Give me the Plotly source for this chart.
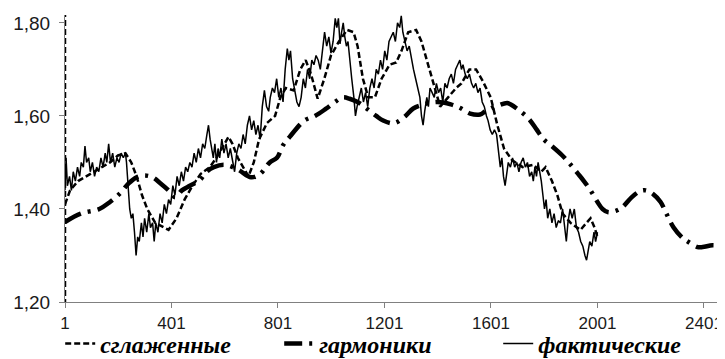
import plotly.graph_objects as go

# ---- фактические (actual, noisy) ----
act_x = [1, 5, 10, 18, 25, 32, 40, 48, 56, 62, 70, 76, 82, 90, 96, 104, 112, 120, 128, 136,
         144, 152, 158, 165, 172, 180, 188, 196, 204, 212, 220, 228, 232, 238, 244, 250, 256, 262, 268, 274,
         280, 288, 294, 300, 308, 316, 322, 330, 336, 342, 350, 358, 366, 374, 382, 390, 398, 406, 414, 422,
         430, 438, 446, 454, 462, 470, 478, 486, 494, 502, 510, 518, 526, 534, 540, 546, 552, 558, 564, 570,
         576, 582, 590, 598, 606, 614, 622, 630, 638, 646, 654, 662, 670, 678, 686, 694, 702, 710, 718, 726,
         734, 742, 750, 758, 766, 772, 780, 788, 796, 804, 812, 820, 828, 836, 842, 848, 856, 864, 872, 880,
         888, 896, 904, 912, 920, 928, 936, 944, 952, 960, 968, 976, 984, 992, 1000, 1008, 1016, 1022, 1028, 1034,
         1040, 1046, 1052, 1058, 1064, 1070, 1078, 1086, 1092, 1098, 1106, 1114, 1122, 1130, 1138, 1146, 1154, 1162, 1170, 1178,
         1186, 1194, 1202, 1210, 1218, 1226, 1234, 1242, 1250, 1258, 1264, 1270, 1278, 1286, 1294, 1302, 1310, 1318, 1326, 1334,
         1340, 1346, 1352, 1360, 1366, 1372, 1380, 1388, 1396, 1404, 1412, 1420, 1428, 1436, 1444, 1452, 1460, 1468, 1476, 1484,
         1490, 1496, 1504, 1512, 1520, 1528, 1536, 1544, 1552, 1560, 1568, 1576, 1584, 1590, 1598, 1606, 1614, 1622, 1630, 1636,
         1642, 1648, 1654, 1660, 1666, 1674, 1682, 1690, 1698, 1706, 1714, 1722, 1730, 1738, 1746, 1754, 1760, 1766, 1772, 1778,
         1784, 1790, 1796, 1802, 1808, 1814, 1822, 1830, 1838, 1846, 1854, 1862, 1870, 1878, 1884, 1890, 1898, 1906, 1914, 1922,
         1930, 1938, 1946, 1954, 1960, 1966, 1972, 1980, 1988, 1994, 2001]
act_y = [1.44, 1.51, 1.45, 1.47, 1.44, 1.48, 1.46, 1.49, 1.47, 1.50, 1.49, 1.535, 1.50, 1.51, 1.48, 1.50, 1.47, 1.49, 1.48, 1.51,
         1.49, 1.52, 1.50, 1.54, 1.50, 1.52, 1.49, 1.51, 1.50, 1.52, 1.51, 1.52, 1.50, 1.44, 1.40, 1.38, 1.39, 1.35, 1.30, 1.34,
         1.33, 1.37, 1.34, 1.38, 1.35, 1.39, 1.36, 1.37, 1.33, 1.37, 1.35, 1.39, 1.37, 1.41, 1.39, 1.42, 1.41, 1.45, 1.43, 1.47,
         1.45, 1.48, 1.46, 1.49, 1.48, 1.50, 1.49, 1.52, 1.50, 1.53, 1.51, 1.54, 1.53, 1.56, 1.58, 1.55, 1.53, 1.51, 1.54, 1.50,
         1.53, 1.51, 1.55, 1.52, 1.54, 1.51, 1.53, 1.50, 1.48, 1.52, 1.54, 1.53, 1.56, 1.54, 1.58, 1.60, 1.57, 1.59, 1.56, 1.58,
         1.55, 1.62, 1.655, 1.62, 1.61, 1.64, 1.66, 1.65, 1.68, 1.64, 1.66, 1.63, 1.70, 1.745, 1.72, 1.74, 1.68, 1.655, 1.63, 1.62,
         1.64, 1.68, 1.66, 1.70, 1.68, 1.72, 1.71, 1.73, 1.72, 1.70, 1.74, 1.78, 1.75, 1.77, 1.735, 1.76, 1.81, 1.79, 1.81, 1.755,
         1.78, 1.80, 1.77, 1.75, 1.76, 1.72, 1.68, 1.64, 1.60, 1.62, 1.64, 1.66, 1.63, 1.65, 1.62, 1.66, 1.68, 1.66, 1.70, 1.69,
         1.72, 1.70, 1.74, 1.72, 1.76, 1.77, 1.78, 1.76, 1.80, 1.79, 1.815, 1.78, 1.76, 1.74, 1.75, 1.72, 1.70, 1.68, 1.66, 1.64,
         1.60, 1.58, 1.61, 1.64, 1.62, 1.66, 1.65, 1.64, 1.67, 1.65, 1.66, 1.63, 1.67, 1.66, 1.68, 1.69, 1.67, 1.70, 1.71, 1.72,
         1.70, 1.71, 1.69, 1.68, 1.69, 1.67, 1.66, 1.67, 1.65, 1.66, 1.63, 1.62, 1.60, 1.59, 1.57, 1.56, 1.57, 1.56, 1.52, 1.49,
         1.51, 1.47, 1.45, 1.48, 1.50, 1.49, 1.51, 1.49, 1.50, 1.48, 1.50, 1.51, 1.49, 1.50, 1.47, 1.48, 1.46, 1.49, 1.47, 1.50,
         1.48, 1.46, 1.43, 1.40, 1.42, 1.38, 1.40, 1.37, 1.39, 1.36, 1.375, 1.37, 1.40, 1.36, 1.33, 1.37, 1.40, 1.38, 1.40, 1.36,
         1.35, 1.33, 1.32, 1.30, 1.29, 1.31, 1.33, 1.32, 1.35, 1.33, 1.35]

# ---- сглаженные (smoothed) ----
sm_x = [1, 1, None, 1, 20, 50, 80, 110, 140, 170, 200, 228, 250, 270, 290, 310, 340, 370, 390, 420,
        450, 480, 510, 545, 570, 600, 615, 630, 650, 670, 690, 710, 730, 760, 790, 810, 830, 860, 885, 905,
        925, 950, 975, 1000, 1030, 1060, 1085, 1100, 1120, 1140, 1165, 1190, 1220, 1245, 1265, 1290, 1320, 1340, 1360, 1385,
        1410, 1440, 1470, 1490, 1520, 1545, 1570, 1600, 1625, 1650, 1680, 1720, 1760, 1790, 1806, 1830, 1850, 1870, 1900, 1937,
        1960, 1975, 1990, 2001]
sm_y = [1.0, 1.9, None, 1.41, 1.44, 1.46, 1.47, 1.48, 1.49, 1.50, 1.515, 1.52, 1.50, 1.47, 1.43, 1.40, 1.37, 1.36, 1.355, 1.38,
        1.42, 1.45, 1.475, 1.49, 1.51, 1.54, 1.555, 1.54, 1.51, 1.49, 1.47, 1.50, 1.55, 1.585, 1.60, 1.64, 1.66, 1.655, 1.70, 1.72,
        1.69, 1.637, 1.68, 1.73, 1.76, 1.785, 1.78, 1.75, 1.68, 1.64, 1.64, 1.68, 1.71, 1.715, 1.74, 1.78, 1.785, 1.76, 1.72, 1.67,
        1.62, 1.64, 1.66, 1.67, 1.70, 1.70, 1.675, 1.64, 1.58, 1.53, 1.505, 1.49, 1.495, 1.48, 1.49, 1.46, 1.43, 1.39, 1.37, 1.355,
        1.37, 1.38, 1.36, 1.34]

# ---- гармоники (harmonics) ----
har_x = [1, 60, 130, 170, 210, 240, 270, 300, 330, 360, 390, 415, 440, 470, 507, 533, 560, 600, 650, 700,
         733, 770, 797, 820, 845, 900, 940, 980, 1020, 1045, 1070, 1100, 1136, 1170, 1196, 1230, 1249, 1280, 1309, 1350,
         1400, 1450, 1486, 1523, 1560, 1580, 1617, 1662, 1674, 1700, 1741, 1772, 1798, 1830, 1869, 1896, 1926, 1950, 1975, 2001,
         2020, 2042, 2070, 2095, 2129, 2160, 2182, 2210, 2238, 2260, 2287, 2320, 2340, 2377, 2396, 2433, 2460, 2481]
har_y = [1.372, 1.39, 1.40, 1.415, 1.435, 1.455, 1.468, 1.472, 1.468, 1.455, 1.44, 1.425, 1.44, 1.45, 1.462, 1.48, 1.49, 1.495, 1.485, 1.468,
         1.475, 1.50, 1.51, 1.537, 1.555, 1.59, 1.60, 1.615, 1.632, 1.64, 1.637, 1.63, 1.615, 1.60, 1.59, 1.584, 1.587, 1.60, 1.616, 1.625,
         1.63, 1.625, 1.617, 1.605, 1.603, 1.61, 1.62, 1.628, 1.625, 1.615, 1.595, 1.571, 1.55, 1.535, 1.515, 1.498, 1.477, 1.46, 1.44, 1.415,
         1.40, 1.393, 1.396, 1.404, 1.425, 1.438, 1.44, 1.432, 1.415, 1.39, 1.36, 1.338, 1.33, 1.318, 1.318, 1.322, 1.32, 1.315]

y_ticks = [1.20, 1.40, 1.60, 1.80]
x_ticks = [1, 401, 801, 1201, 1601, 2001, 2401]

fig = go.Figure()
fig.add_trace(go.Scatter(x=sm_x, y=sm_y, mode="lines", name="сглаженные", connectgaps=False,
                         line=dict(color="black", width=2.5, dash="6px,3px")))
fig.add_trace(go.Scatter(x=har_x, y=har_y, mode="lines", name="гармоники", line_shape="spline",
                         line=dict(color="black", width=4.5, dash="18px,7px,3px,7px")))
fig.add_trace(go.Scatter(x=act_x, y=act_y, mode="lines", name="фактические",
                         line=dict(color="black", width=1.5)))

y_font = dict(family="Liberation Sans, Arial", size=19, color="#1a1a1a")
x_font = dict(family="Liberation Sans, Arial", size=17, color="#1a1a1a")
fig.update_layout(
    width=725, height=359,
    margin=dict(l=57, r=8, t=7, b=65, autoexpand=False),
    paper_bgcolor="white", plot_bgcolor="white",
    separators=", ",
    showlegend=True,
    legend=dict(orientation="h", x=0.072, xref="container", xanchor="left",
                y=0.064, yref="container", yanchor="middle",
                font=dict(family="Liberation Serif, Times New Roman", size=24, weight="bold",
                          style="italic", color="black"),
                entrywidth=174, entrywidthmode="pixels",
                itemwidth=30, tracegroupgap=0, bgcolor="rgba(0,0,0,0)"),
    xaxis=dict(range=[1, 2480], tickvals=x_ticks, ticktext=[str(v) for v in x_ticks],
               showgrid=False, zeroline=False, showline=True, linecolor="#808080", linewidth=1,
               ticks="outside", ticklen=5, tickcolor="#808080", tickfont=x_font,
               automargin=False, ticklabelstandoff=1),
    yaxis=dict(range=[1.2, 1.817], tickvals=y_ticks, tickformat=".2f",
               showgrid=False, zeroline=False, showline=True, linecolor="#808080", linewidth=1,
               ticks="outside", ticklen=5, tickcolor="#808080", tickfont=y_font,
               automargin=False, ticklabelstandoff=5),
)
fig.write_html("out.html")
